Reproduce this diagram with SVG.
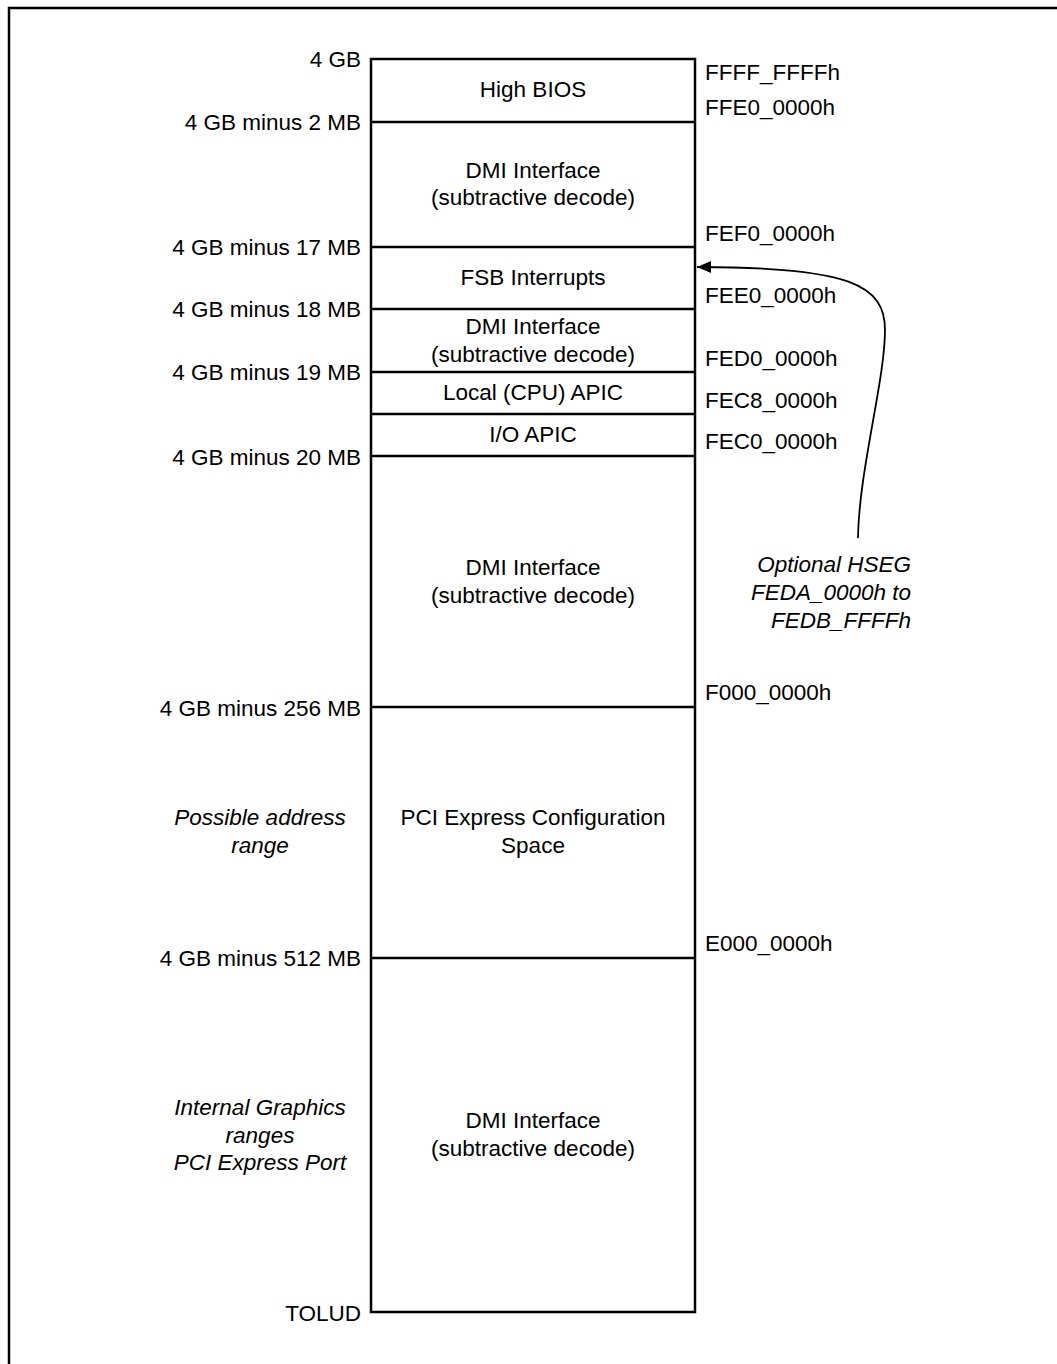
<svg xmlns="http://www.w3.org/2000/svg" width="1057" height="1364" viewBox="0 0 1057 1364">
<defs>
<style>
text{font-family:"Liberation Sans",Arial,sans-serif;font-size:22.5px;fill:#000}
.c{text-anchor:middle}
.r{text-anchor:end}
.i{font-style:italic}
.ln{stroke:#000;stroke-width:2.5;fill:none}
</style>
<marker id="ah" viewBox="0 0 14 12" refX="14" refY="6" markerWidth="14" markerHeight="12" markerUnits="userSpaceOnUse" orient="auto">
<path d="M0,0 L14,6 L0,12 Z" fill="#000"/>
</marker>
</defs>
<rect width="1057" height="1364" fill="#fff"/>
<rect x="9" y="8" width="1070" height="1380" fill="none" stroke="#000" stroke-width="2.5"/>

<g id="map">
<rect x="371" y="59" width="324" height="1253" class="ln"/>
<line x1="371" y1="122" x2="695" y2="122" class="ln"/>
<line x1="371" y1="247" x2="695" y2="247" class="ln"/>
<line x1="371" y1="309" x2="695" y2="309" class="ln"/>
<line x1="371" y1="372" x2="695" y2="372" class="ln"/>
<line x1="371" y1="414" x2="695" y2="414" class="ln"/>
<line x1="371" y1="456" x2="695" y2="456" class="ln"/>
<line x1="371" y1="707" x2="695" y2="707" class="ln"/>
<line x1="371" y1="958" x2="695" y2="958" class="ln"/>
</g>

<g id="high-bios"><text class="c" x="533" y="97">High BIOS</text></g>
<g id="dmi-1"><text class="c" x="533" y="178">DMI Interface</text><text class="c" x="533" y="205">(subtractive decode)</text></g>
<g id="fsb"><text class="c" x="533" y="285">FSB Interrupts</text></g>
<g id="dmi-2"><text class="c" x="533" y="334">DMI Interface</text><text class="c" x="533" y="362">(subtractive decode)</text></g>
<g id="lapic"><text class="c" x="533" y="400">Local (CPU) APIC</text></g>
<g id="ioapic"><text class="c" x="533" y="442">I/O APIC</text></g>
<g id="dmi-3"><text class="c" x="533" y="575">DMI Interface</text><text class="c" x="533" y="603">(subtractive decode)</text></g>
<g id="pcie"><text class="c" x="533" y="825">PCI Express Configuration</text><text class="c" x="533" y="853">Space</text></g>
<g id="dmi-4"><text class="c" x="533" y="1128">DMI Interface</text><text class="c" x="533" y="1156">(subtractive decode)</text></g>

<g id="left-labels">
<text class="r" x="361" y="67">4 GB</text>
<text class="r" x="361" y="130">4 GB minus 2 MB</text>
<text class="r" x="361" y="255">4 GB minus 17 MB</text>
<text class="r" x="361" y="317">4 GB minus 18 MB</text>
<text class="r" x="361" y="380">4 GB minus 19 MB</text>
<text class="r" x="361" y="465">4 GB minus 20 MB</text>
<text class="r" x="361" y="716">4 GB minus 256 MB</text>
<text class="r" x="361" y="966">4 GB minus 512 MB</text>
<text class="r" x="361" y="1321">TOLUD</text>
<text class="c i" x="260" y="825">Possible address</text>
<text class="c i" x="260" y="853">range</text>
<text class="c i" x="260" y="1115">Internal Graphics</text>
<text class="c i" x="260" y="1143">ranges</text>
<text class="c i" x="260" y="1170">PCI Express Port</text>
</g>

<g id="right-labels">
<text x="705" y="80">FFFF_FFFFh</text>
<text x="705" y="115">FFE0_0000h</text>
<text x="705" y="241">FEF0_0000h</text>
<text x="705" y="303">FEE0_0000h</text>
<text x="705" y="366">FED0_0000h</text>
<text x="705" y="408">FEC8_0000h</text>
<text x="705" y="449">FEC0_0000h</text>
<text x="705" y="700">F000_0000h</text>
<text x="705" y="951">E000_0000h</text>
</g>

<g id="hseg-note">
<text class="r i" x="911" y="572">Optional HSEG</text>
<text class="r i" x="911" y="600">FEDA_0000h to</text>
<text class="r i" x="911" y="628">FEDB_FFFFh</text>
</g>

<g id="connectors">
<path d="M858,538 C859,470 885,380 885,330 C885,285 850,267 697,267" fill="none" stroke="#000" stroke-width="1.8" marker-end="url(#ah)"/>
</g>
</svg>
